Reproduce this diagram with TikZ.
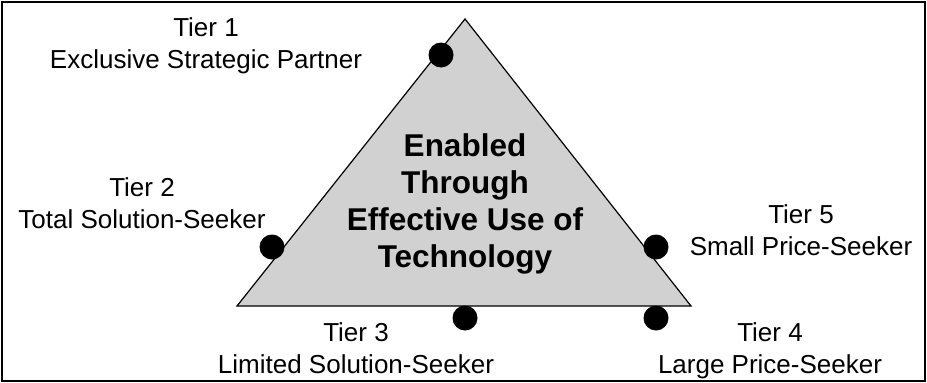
\documentclass[tikz,border=0pt]{standalone}
\usepackage{fontspec}
\setmainfont{Liberation Sans}
\usepackage{xcolor}
\usepackage{tikz}

\begin{document}
\begin{tikzpicture}[x=1pt,y=-1pt,
  tierdot/.style={circle,fill=black,inner sep=0pt,minimum size=25pt},
  tierlabel/.style={align=center,inner sep=0pt,anchor=base,font=\fontsize{26}{32}\selectfont},
  corelabel/.style={align=center,inner sep=0pt,anchor=base,font=\bfseries\fontsize{31.5}{37}\selectfont}]
\useasboundingbox (0,0) rectangle (927,383);
\draw [line width=2pt] (2,2) rectangle (925,381);

% the triangle
\coordinate (apex) at (465,19);
\coordinate (left) at (237,306);
\coordinate (right) at (691,306);
\draw [fill=black!18, line width=1.2pt, line join=miter] (apex) -- (left) -- (right) -- cycle;

\node [corelabel] (core) at (465,267) {Enabled\\Through\\Effective Use of\\Technology};

% the tiers
\node [tierdot] (dot1) at (441,55) {};
\node [tierdot] (dot2) at (272,247) {};
\node [tierdot] (dot3) at (465,318) {};
\node [tierdot] (dot4) at (656,318) {};
\node [tierdot] (dot5) at (656,247) {};

\node [tierlabel] (tier1) at (206,68) {Tier 1\\Exclusive Strategic Partner};
\node [tierlabel] (tier2) at (142,228) {Tier 2\\Total Solution-Seeker};
\node [tierlabel] (tier3) at (356,373) {Tier 3\\Limited Solution-Seeker};
\node [tierlabel] (tier4) at (770,373) {Tier 4\\Large Price-Seeker};
\node [tierlabel] (tier5) at (801,255) {Tier 5\\Small Price-Seeker};
\end{tikzpicture}
\end{document}
